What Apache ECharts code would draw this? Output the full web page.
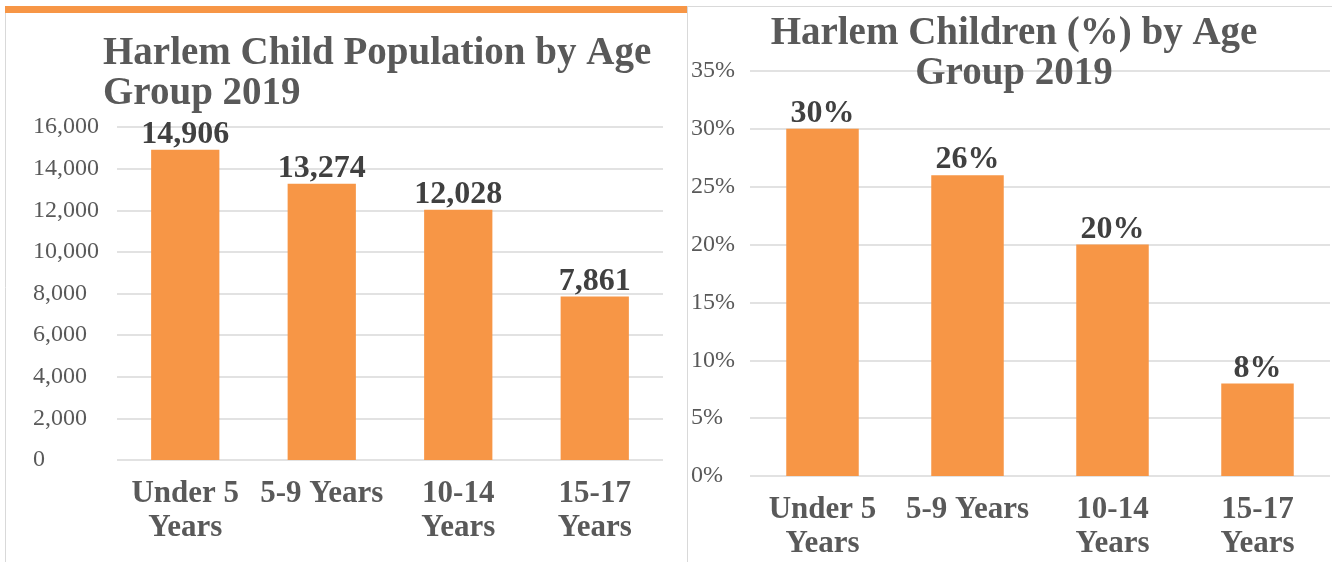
<!DOCTYPE html>
<html>
<head>
<meta charset="utf-8">
<script src="https://cdn.jsdelivr.net/npm/echarts@6/dist/echarts.min.js"></script>
<style>
	html,body{margin:0;padding:0;background:#fff;}
	#main{width:1332px;height:562px;}
</style>
</head>
<body>
<div id="main"></div>
<script>
var categories = ['Under 5\nYears', '5-9 Years', '10-14\nYears', '15-17\nYears'];
var populationData = [14906, 13274, 12028, 7861];
var percentData = [30, 26, 20, 8];

var serif = '"Liberation Serif", "DejaVu Serif", serif';

function axisX(idx){
	return {
		type: 'category',
		gridIndex: idx,
		data: categories,
		axisLine: {show: false},
		axisTick: {show: false},
		axisLabel: {
			interval: 0,
			margin: 17,
			color: '#595959',
			fontFamily: serif,
			fontWeight: 'bold',
			fontSize: 31,
			lineHeight: 34
		}
	};
}

function axisY(idx, max, step, margin, fmt){
	return {
		type: 'value',
		gridIndex: idx,
		min: 0,
		max: max,
		interval: step,
		axisLine: {show: false},
		axisTick: {show: false},
		splitLine: {lineStyle: {color: '#d9d9d9', width: 1.5}},
		axisLabel: {
			align: 'left',
			margin: margin,
			color: '#595959',
			fontFamily: serif,
			fontSize: 24,
			padding: [5, 0, 0, 0],
			formatter: fmt
		}
	};
}

function barSeries(idx, data, fmt){
	return {
		type: 'bar',
		xAxisIndex: idx,
		yAxisIndex: idx,
		barWidth: '50%',
		data: data,
		itemStyle: {color: '#F79646'},
		label: {
			show: true,
			position: 'top',
			distance: -1,
			color: '#404040',
			fontFamily: serif,
			fontWeight: 'bold',
			fontSize: 32,
			lineHeight: 32,
			formatter: fmt
		}
	};
}

var myChart = echarts.init(document.getElementById('main'));
var option = {
	animation: false,
	title: [
		{
			text: 'Harlem Child Population by Age\nGroup 2019',
			left: 103,
			top: 34,
			padding: 0,
			textStyle: {color: '#595959', fontFamily: serif, fontWeight: 'bold', fontSize: 39, lineHeight: 40}
		},
		{
			text: 'Harlem Children (%) by Age\nGroup 2019',
			left: 1014,
			top: 14,
			padding: 0,
			textAlign: 'center',
			textStyle: {color: '#595959', fontFamily: serif, fontWeight: 'bold', fontSize: 39, lineHeight: 40}
		}
	],
	grid: [
		{left: 117, top: 127, width: 546, height: 333},
		{left: 750, top: 71, width: 580, height: 405}
	],
	xAxis: [axisX(0), axisX(1)],
	yAxis: [
		axisY(0, 16000, 2000, 84, function(v){ return v.toLocaleString('en-US'); }),
		axisY(1, 35, 5, 59, '{value}%')
	],
	series: [
		barSeries(0, populationData, function(p){ return p.value.toLocaleString('en-US'); }),
		barSeries(1, percentData, '{c}%')
	],
	graphic: [
		{type: 'rect', shape: {x: 5, y: 6, width: 682, height: 7}, style: {fill: '#F79646'}},
		{type: 'line', shape: {x1: 5.5, y1: 13, x2: 5.5, y2: 562}, style: {stroke: '#d9d9d9', lineWidth: 1}},
		{type: 'line', shape: {x1: 687.5, y1: 6, x2: 687.5, y2: 562}, style: {stroke: '#d9d9d9', lineWidth: 1}},
		{type: 'line', shape: {x1: 688, y1: 6.5, x2: 1332, y2: 6.5}, style: {stroke: '#d9d9d9', lineWidth: 1}}
	]
};
myChart.setOption(option);
window.addEventListener("resize",function() {
	myChart.resize();
})
</script>
</body>
</html>
